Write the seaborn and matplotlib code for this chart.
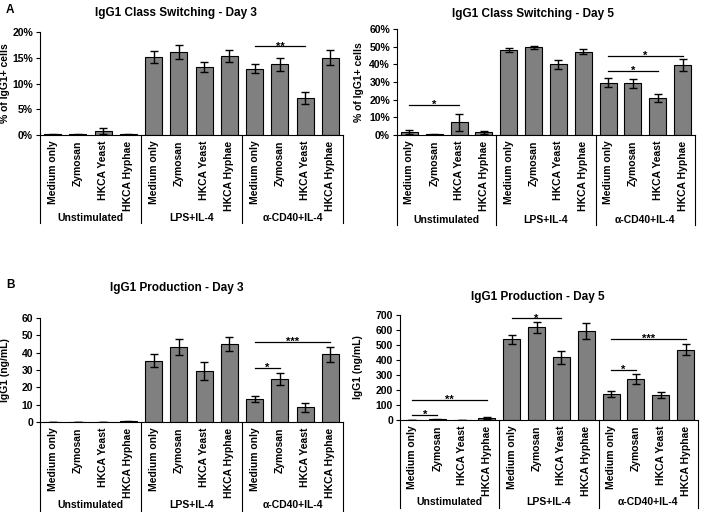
import numpy as np
import pandas as pd
import matplotlib
matplotlib.use("Agg")
import matplotlib.pyplot as plt
import matplotlib.transforms as mtransforms
from matplotlib.ticker import PercentFormatter
import seaborn as sns

# ---- data ----
treatments = ["Medium only", "Zymosan", "HKCA Yeast", "HKCA Hyphae"]
groups = ["Unstimulated", "LPS+IL-4", "α-CD40+IL-4"]

# IgG1 class switching, % of IgG1+ cells
cs_day3 = [0.1, 0.1, 0.8, 0.1, 15.1, 16.1, 13.2, 15.4, 12.9, 13.7, 7.2, 15.0]
cs_day3_err = [0.05, 0.05, 0.6, 0.05, 1.2, 1.4, 0.9, 1.2, 0.9, 1.2, 1.1, 1.5]
cs_day5 = [1.5, 0.4, 7.3, 1.5, 48.3, 49.6, 40.0, 47.2, 29.6, 29.2, 21.0, 39.5]
cs_day5_err = [1.2, 0.2, 4.8, 0.8, 1.2, 1.0, 2.6, 1.5, 2.4, 2.5, 2.2, 3.5]

# IgG1 production, ng/mL
pr_day3 = [0.0, 0.0, 0.0, 0.3, 35.4, 43.2, 29.3, 44.8, 13.2, 24.7, 8.5, 39.0]
pr_day3_err = [0.0, 0.0, 0.0, 0.1, 3.9, 4.6, 5.3, 4.1, 1.7, 3.5, 2.5, 4.4]
pr_day5 = [0.0, 5.0, 0.0, 15.0, 537, 617, 417, 591, 175, 271, 168, 470]
pr_day5_err = [0.0, 2.0, 0.0, 5.0, 29, 35, 43, 53, 20, 34, 19, 39]

# significance bars: (from bar, to bar, height, label)
cs_day3_sig = [(8, 10, 17.2, "**")]
cs_day5_sig = [(0, 2, 16.8, "*"), (8, 10, 36.4, "*"), (8, 11, 44.7, "*")]
pr_day3_sig = [(8, 9, 31.2, "*"), (8, 11, 46.2, "***")]
pr_day5_sig = [(0, 1, 36, "*"), (0, 3, 132, "**"), (4, 6, 677, "*"),
               (8, 9, 332, "*"), (8, 11, 539, "***")]

plt.rcParams['font.family'] = ['Liberation Sans', 'DejaVu Sans']
plt.rcParams['font.weight'] = 'bold'

W, H = 705, 512
fig = plt.figure(figsize=(W / 100, H / 100), dpi=100)


def px_axes(x0, x1, ytop, ybot):
    return fig.add_axes([x0 / W, 1 - ybot / H, (x1 - x0) / W, (ybot - ytop) / H])


def draw_panel(ax, means, errs, sig, ylim, yticks, ylabel, ylab_x,
               sep_depth, grp_y, pct=False):
    keys = [f"{g}|{t}" for g in groups for t in treatments]
    df = pd.DataFrame({"key": keys, "value": means, "err": errs})
    sns.barplot(data=df, x="key", y="value", order=keys, color="#808080",
                saturation=1, edgecolor="black", linewidth=0.8, width=0.68,
                errorbar=None, ax=ax)
    ax.errorbar(np.arange(len(keys)), df["value"], yerr=df["err"], fmt="none",
                ecolor="black", elinewidth=1.0, capsize=3, capthick=1.0)
    ax.set_xlim(-0.5, len(keys) - 0.5)
    ax.set_ylim(*ylim)
    ax.set_yticks(yticks)
    if pct:
        ax.yaxis.set_major_formatter(PercentFormatter(xmax=100, decimals=0))
    ax.set_xticks(range(len(keys)))
    ax.set_xticklabels([k.split("|")[1] for k in keys], rotation=90,
                       fontsize=7.5, fontweight="bold")
    ax.tick_params(axis="x", length=0, pad=4)
    ax.tick_params(axis="y", length=3, width=0.8, labelsize=7.5, pad=2)
    for lab in ax.get_yticklabels():
        lab.set_fontweight("bold")
    ax.set_xlabel("")
    ax.set_ylabel(ylabel, fontsize=7.5, fontweight="bold")
    ax.yaxis.set_label_coords(ylab_x, 0.5)
    for s in ["top", "right"]:
        ax.spines[s].set_visible(False)
    for s in ["left", "bottom"]:
        ax.spines[s].set_linewidth(0.8)
        ax.spines[s].set_color("black")

    # multi-level category axis: separators and group names
    trans = mtransforms.blended_transform_factory(ax.transData, ax.transAxes)
    n = len(treatments)
    for k in range(len(groups) + 1):
        b = k * n - 0.5
        ax.plot([b, b], [0, -sep_depth], transform=trans, clip_on=False,
                color="black", lw=0.8)
    for k, g in enumerate(groups):
        ax.text(k * n + (n - 1) / 2, grp_y, g, transform=trans, ha="center",
                va="center", fontsize=7.5, fontweight="bold")

    # significance lines
    for i, j, h, lab in sig:
        ax.plot([i, j], [h, h], color="black", lw=0.9, clip_on=False)
        ax.text((i + j) / 2, h, lab, ha="center", va="center",
                fontsize=8, fontweight="bold")


ax1 = px_axes(40, 343, 32, 135)
draw_panel(ax1, cs_day3, cs_day3_err, cs_day3_sig, (0, 20), [0, 5, 10, 15, 20],
           "% of IgG1+ cells", -0.10, 0.85, -0.81, pct=True)

ax2 = px_axes(397, 695, 29, 135)
draw_panel(ax2, cs_day5, cs_day5_err, cs_day5_sig, (0, 60),
           [0, 10, 20, 30, 40, 50, 60], "% of IgG1+ cells", -0.11, 0.85,
           -0.80, pct=True)

ax3 = px_axes(40, 343, 318, 422)
draw_panel(ax3, pr_day3, pr_day3_err, pr_day3_sig, (0, 60),
           [0, 10, 20, 30, 40, 50, 60], "IgG1 (ng/mL)", -0.10, 0.9, -0.80)

ax4 = px_axes(400, 698, 315, 420)
draw_panel(ax4, pr_day5, pr_day5_err, pr_day5_sig, (0, 700),
           [0, 100, 200, 300, 400, 500, 600, 700], "IgG1 (ng/mL)", -0.125,
           0.84, -0.78)

titles = [("IgG1 Class Switching - Day 3", 176, 13),
          ("IgG1 Class Switching - Day 5", 533, 14),
          ("IgG1 Production - Day 3", 177, 288),
          ("IgG1 Production - Day 5", 538, 297)]
for t, x, y in titles:
    fig.text(x / W, 1 - y / H, t, ha="center", va="center", fontsize=8.5,
             fontweight="bold")
fig.text(6 / W, 1 - 10 / H, "A", ha="left", va="center", fontsize=8.5,
         fontweight="bold")
fig.text(6 / W, 1 - 285 / H, "B", ha="left", va="center", fontsize=8.5,
         fontweight="bold")

fig.savefig("out.png", dpi=100, facecolor="white")
